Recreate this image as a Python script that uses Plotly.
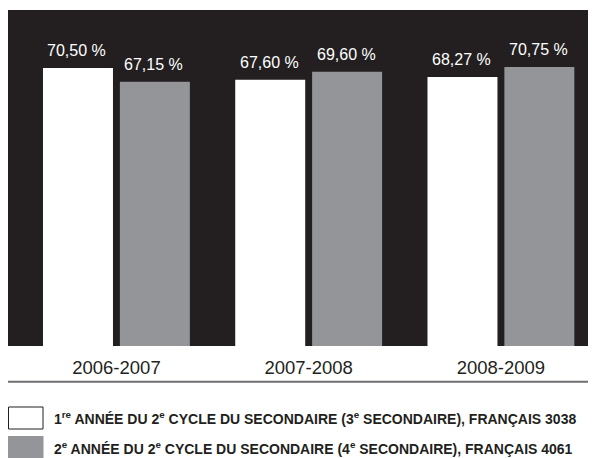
import plotly.graph_objects as go

years = ["2006-2007", "2007-2008", "2008-2009"]
sec3 = [70.50, 67.60, 68.27]
sec4 = [67.15, 69.60, 70.75]
series_names = [
    "1<sup>re</sup> ANNÉE DU 2<sup>e</sup> CYCLE DU SECONDAIRE (3<sup>e</sup> SECONDAIRE), FRANÇAIS 3038",
    "2<sup>e</sup> ANNÉE DU 2<sup>e</sup> CYCLE DU SECONDAIRE (4<sup>e</sup> SECONDAIRE), FRANÇAIS 4061",
]

# the page body has an 8px margin, so the figure starts at (8, 8) in the window
OFF = 8
W, H = 588, 450
L, R, T, B = 0, 8, 2, 112
PW, PH = W - L - R, H - T - B


def xp(px):
    return (px - OFF - L) / PW


def yp(py):
    return (H - B - (py - OFF)) / PH


def fmt(v):
    return f"{v:.2f}".replace(".", ",") + " %"


FONT = "Liberation Sans, Arial, sans-serif"
xs = list(range(len(years)))
bw = 0.364
offsets = [-0.382, 0.018]

fig = go.Figure()
for vals, color, off, name in [(sec3, "white", offsets[0], "sec3"),
                               (sec4, "#939598", offsets[1], "sec4")]:
    fig.add_trace(
        go.Bar(
            x=xs, y=vals, width=bw, offset=off,
            marker=dict(color=color, line=dict(width=0)),
            name=name, showlegend=False,
        )
    )

labels = []
for vals, off in [(sec3, offsets[0]), (sec4, offsets[1])]:
    for x, v in zip(xs, vals):
        labels.append(dict(
            x=x + off + bw / 2, y=v, xref="x", yref="y", text=fmt(v),
            showarrow=False, yanchor="bottom", yshift=7, xshift=-1,
            font=dict(family=FONT, size=16, color="white"),
        ))

fig.update_xaxes(
    range=[-0.564, 2.453],
    tickvals=xs,
    ticktext=years,
    tickfont=dict(family=FONT, size=18.5, color="#231f20"),
    ticks="outside",
    ticklen=5,
    tickcolor="rgba(0,0,0,0)",
    showgrid=False,
    zeroline=False,
    showline=False,
)
fig.update_yaxes(range=[2.4, 84.7], visible=False, showgrid=False)

shapes = [
    dict(type="line", xref="paper", yref="paper", x0=0, x1=1, y0=yp(381.7), y1=yp(381.7),
         line=dict(color="#6d6e71", width=2)),
    dict(type="rect", xref="paper", yref="paper", x0=xp(8.5), x1=xp(43), y0=yp(407), y1=yp(429),
         fillcolor="white", line=dict(color="#231f20", width=1)),
    dict(type="rect", xref="paper", yref="paper", x0=xp(8), x1=xp(43.5), y0=yp(436), y1=yp(458),
         fillcolor="#939598", line=dict(width=0)),
]
legend_text = [
    dict(text="<b>" + series_names[i] + "</b>", xref="paper", yref="paper", x=xp(52), y=yp(cy),
         xanchor="left", yanchor="middle", showarrow=False,
         font=dict(family=FONT, size=14, color="#231f20"))
    for i, cy in enumerate([418, 448])
]

fig.update_layout(
    width=W, height=H,
    margin=dict(l=L, r=R, t=T, b=B),
    paper_bgcolor="white",
    plot_bgcolor="#231f20",
    barmode="group",
    shapes=shapes,
    annotations=labels + legend_text,
)

fig.write_html("out.html")
